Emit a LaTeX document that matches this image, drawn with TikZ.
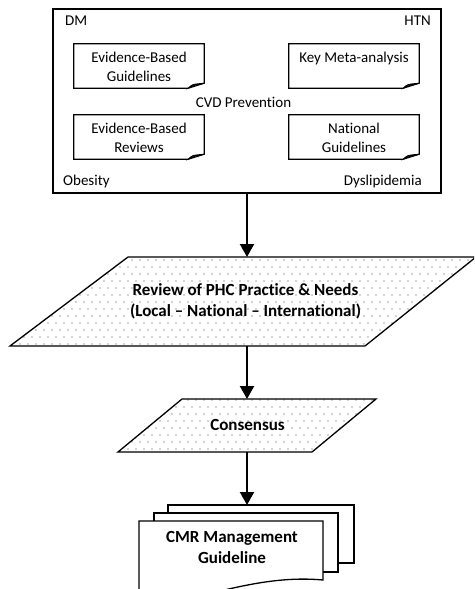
\documentclass[tikz,border=0pt]{standalone}
\usepackage{fontspec}
\setmainfont{Carlito}[Ligatures=NoCommon]
\usetikzlibrary{arrows.meta,calc,patterns}

% sparse staggered dot fill for the process shapes
\pgfdeclarepatternformonly{sparsedots}{\pgfqpoint{-1pt}{-1pt}}{\pgfqpoint{9pt}{15pt}}{\pgfqpoint{8pt}{14pt}}{%
  \pgfpathcircle{\pgfqpoint{0pt}{0pt}}{0.65pt}%
  \pgfpathcircle{\pgfqpoint{4pt}{7pt}}{0.65pt}%
  \pgfusepath{fill}%
}

\begin{document}
\begin{tikzpicture}[x=1pt,y=-1pt,
  frame/.style={draw, line width=1.5pt, inner sep=0pt},
  notebox/.style={minimum width=130pt, minimum height=44pt, inner sep=0pt},
  notetext/.style={anchor=base, align=center, inner sep=0pt,
    font=\fontsize{15}{19}\selectfont},
  plain/.style={inner sep=0pt, font=\fontsize{15}{18}\selectfont},
  boldtext/.style={anchor=base, align=center, inner sep=0pt,
    font=\fontsize{17}{20.5}\selectfont\bfseries},
  flow/.style={line width=2.2pt, -{Triangle[length=13pt,width=14pt]}},
  outline/.style={line width=1.3pt, line join=miter},
  dotfill/.style={pattern=sparsedots, pattern color=black!75},
  sheet/.style={draw, line width=1.3pt, fill=white},
  hidden/.style={inner sep=0pt, outer sep=0pt},
]
\useasboundingbox (0,0) rectangle (474,589);
\clip (0,0) rectangle (474,589);

% outer frame with the four risk-factor labels
\node[frame, minimum width=388pt, minimum height=184pt] (frame) at (247,101) {};
\node[plain, anchor=base west] (dm)   at (65,25)  {DM};
\node[plain, anchor=base east] (htn)  at (431,25) {HTN};
\node[plain, anchor=base west] (obe)  at (63,185) {Obesity};
\node[plain, anchor=base east] (dys)  at (422,185) {Dyslipidemia};
\node[plain, anchor=base] (cvd) at (243.5,107) {CVD Prevention};

% evidence sources as notes with a folded corner
\node[notebox] (ebg) at (139,66)  {};
\node[notebox] (kma) at (354,66)  {};
\node[notebox] (ebr) at (139,137) {};
\node[notebox] (ng)  at (354,137) {};
\foreach \n in {ebg,kma,ebr,ng} {
  \draw[outline, line width=1.2pt] (\n.north west) -- (\n.north east)
    -- ($(\n.south east)+(0,-5)$) -- ($(\n.south east)+(-16,0)$)
    -- (\n.south west) -- cycle;
  \draw[line width=0.8pt, fill=black!55] ($(\n.south east)+(-16,0)$)
    .. controls ($(\n.south east)+(-12,-4)$) .. ($(\n.south east)+(0,-5)$)
    -- ($(\n.south east)+(-9,-3)$) -- cycle;
}
% multi-line texts are placed by the baseline of their last line
\node[notetext] (ebgt) at ($(ebg.north)+(0,38)$) {Evidence-Based\\Guidelines};
\node[notetext] (kmat) at ($(kma.north)+(0,19)$) {Key Meta-analysis};
\node[notetext] (ebrt) at ($(ebr.north)+(0,38)$) {Evidence-Based\\Reviews};
\node[notetext] (ngt)  at ($(ng.north)+(0,38)$)  {National\\Guidelines};

% review of practice
\draw[outline, dotfill] (128,257) -- (476,257) -- (365,346) -- (10,346) -- cycle;
\node[hidden, minimum width=200pt, minimum height=89pt] (review) at (247,301.5) {};
\node[boldtext] (reviewt) at (245.5,316) {Review of PHC Practice \& Needs\\(Local -- National -- International)};

% consensus
\draw[outline, dotfill] (182,399) -- (376,399) -- (312,452) -- (118,452) -- cycle;
\node[hidden, minimum width=120pt, minimum height=53pt] (consensus) at (247,425.5) {};
\node[boldtext] (consensust) at (247.5,430) {Consensus};

% stacked output documents
\draw[sheet] (168,505) rectangle (354,563);
\draw[sheet] (154,513) rectangle (338,572);
\draw[sheet] (139,606) -- (139,521) -- (323,521) -- (323,580)
  .. controls (280,576) and (240,586) .. (200,596)
  .. controls (175,602) and (155,605) .. (139,604);
\coordinate (stacktop) at (247,505);
\node[boldtext] (cmr) at (232,563) {CMR Management\\Guideline};

% flow
\draw[flow] (frame.south) -- (review.north);
\draw[flow] (review.south) -- (consensus.north);
\draw[flow] (consensus.south) -- (stacktop);
\end{tikzpicture}
\end{document}
